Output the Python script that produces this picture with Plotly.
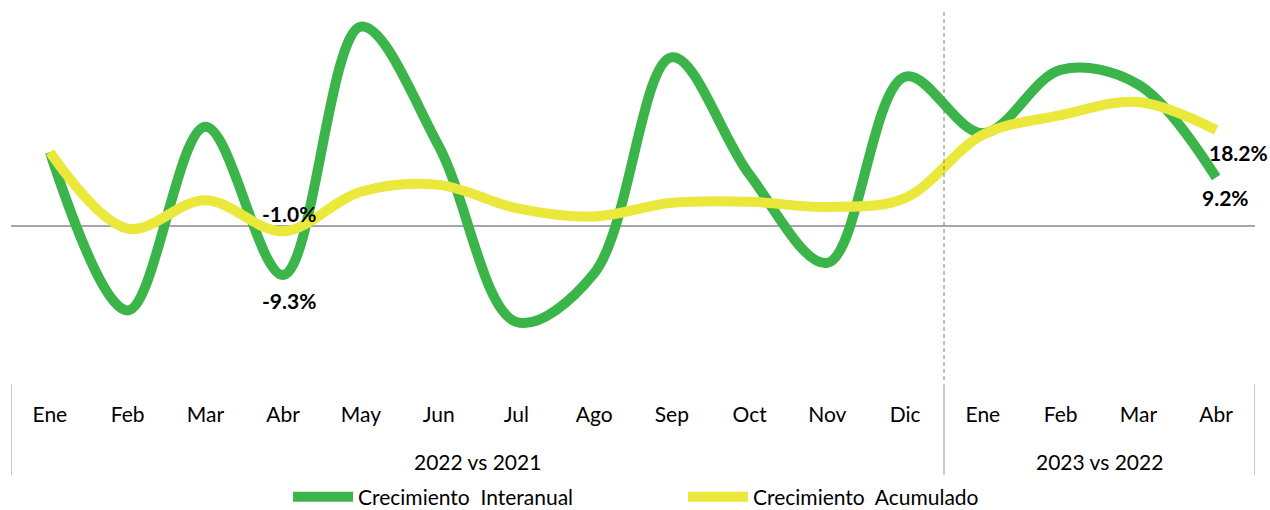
import plotly.graph_objects as go

# categorias del eje (dos niveles)
meses = ["Ene", "Feb", "Mar", "Abr", "May", "Jun", "Jul", "Ago", "Sep", "Oct", "Nov", "Dic",
         "Ene", "Feb", "Mar", "Abr"]
periodos = ["2022 vs 2021", "2023 vs 2022"]
meses_por_periodo = [12, 4]

# valores en %
interanual = [14.0, -16.0, 18.8, -9.3, 37.8, 15.2, -18.2, -9.0, 32.0, 9.7, -7.0, 28.3,
              17.6, 29.6, 26.8, 9.2]
acumulado = [14.0, -0.5, 4.9, -1.0, 6.5, 7.8, 3.4, 1.8, 4.4, 4.6, 3.6, 5.3,
             17.3, 21.0, 23.5, 18.2]

FONT = "Lato"
VERDE = "#3BB54A"
AMARILLO = "#EAE83A"
GRIS = "#a6a6a6"

x = list(range(len(meses)))

fig = go.Figure()
fig.add_trace(go.Scatter(
    x=x, y=interanual, name="Crecimiento\u00a0 Interanual", mode="lines",
    line=dict(color=VERDE, width=10, shape="spline", smoothing=1.0),
))
fig.add_trace(go.Scatter(
    x=x, y=acumulado, name="Crecimiento\u00a0 Acumulado", mode="lines",
    line=dict(color=AMARILLO, width=10, shape="spline", smoothing=1.0),
))

# etiquetas de datos (Abr 2022 y Abr 2023)
etiquetas = [
    (3, acumulado[3], 6, 18),
    (3, interanual[3], 6, -25),
    (15, acumulado[15], 22, -22),
    (15, interanual[15], 9, -20),
]
for i, v, dx, dy in etiquetas:
    fig.add_annotation(x=i, y=v, text=f"{v:.1f}%", showarrow=False, xshift=dx, yshift=dy,
                       font=dict(family=FONT, size=21, color="black", weight="bold"))

# nombres de los periodos y divisores del eje
inicio = 0
fig.add_shape(type="line", x0=-0.5, x1=-0.5, yref="paper", y0=-0.01, y1=-0.253,
              line=dict(color=GRIS, width=1.2))
for nombre, n in zip(periodos, meses_por_periodo):
    fin = inicio + n
    fig.add_annotation(x=(inicio + fin - 1) / 2, yref="paper", y=-0.216, yanchor="middle",
                       text=nombre, showarrow=False,
                       font=dict(family=FONT, size=21, color="black"))
    fig.add_shape(type="line", x0=fin - 0.5, x1=fin - 0.5, yref="paper", y0=-0.01, y1=-0.253,
                  line=dict(color=GRIS, width=1.2))
    inicio = fin

# linea discontinua entre 2022 y 2023
fig.add_shape(type="line", x0=11.5, x1=11.5, yref="paper", y0=0, y1=0.985,
              line=dict(color="#7f7f7f", width=1, dash="4px,3px"))

fig.update_layout(
    width=1270, height=510,
    margin=dict(l=11, r=15, t=5, b=130, autoexpand=False),
    paper_bgcolor="white", plot_bgcolor="white",
    font=dict(family=FONT, size=21, color="black"),
    showlegend=True,
    legend=dict(orientation="h", xanchor="left", x=0.2227, yanchor="middle", y=-0.312,
                itemwidth=60, font=dict(size=21), entrywidth=320),
    xaxis=dict(showgrid=False, showline=False, ticks="", tickvals=x, ticktext=meses,
               tickfont=dict(size=21), ticklabelstandoff=20, range=[-0.5, 15.5],
               zeroline=False, automargin=False),
    yaxis=dict(showgrid=False, showticklabels=False, zeroline=True, zerolinecolor=GRIS,
               zerolinewidth=1.5, range=[-29.2, 41.9], automargin=False),
)

fig.write_html("out.html", config={"displayModeBar": False},
               post_script="document.body.style.margin='0';")
